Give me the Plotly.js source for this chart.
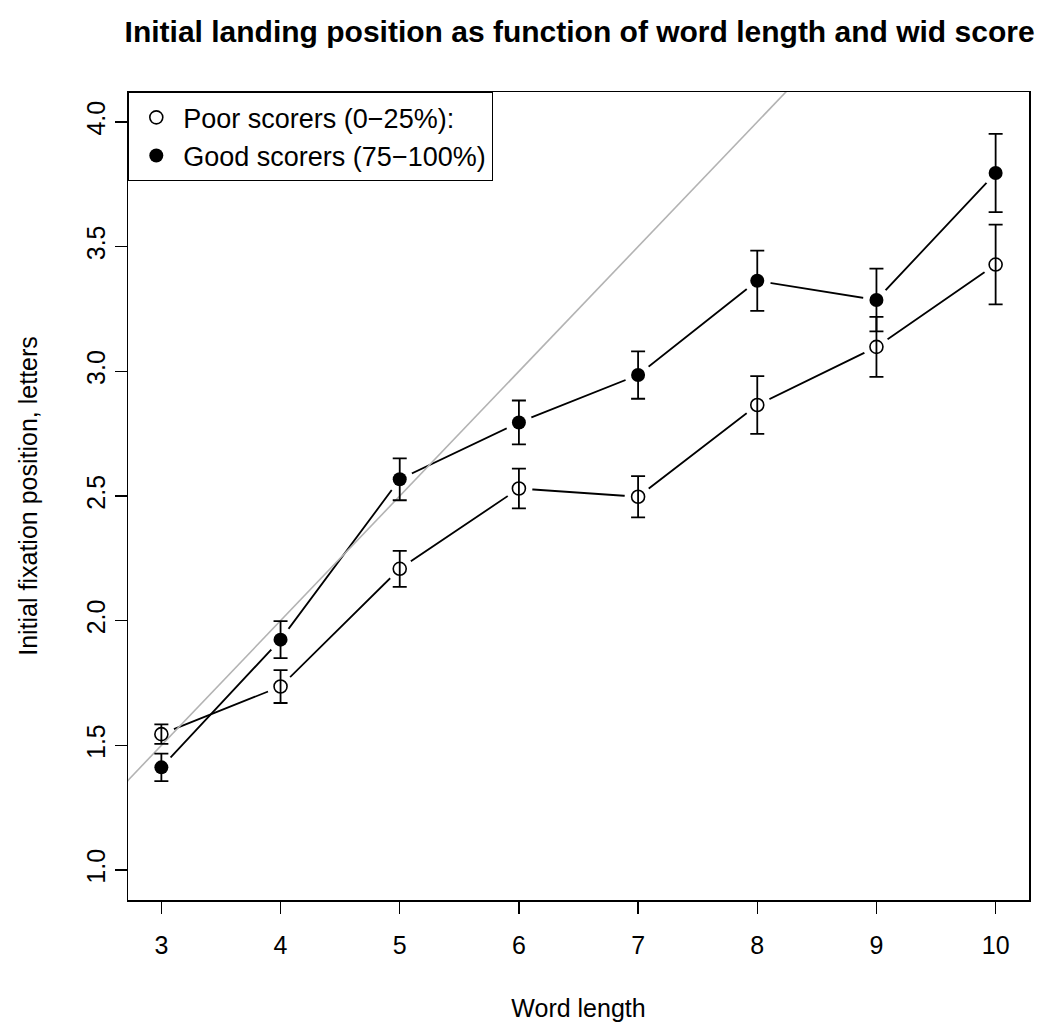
<!DOCTYPE html>
<html>
<head>
<meta charset="utf-8">
<script src="https://cdn.plot.ly/plotly-3.0.1.min.js"></script>
<style>
  body { margin: 0; background: #fff; }
  #myDiv { width: 1050px; height: 1032px; }
</style>
</head>
<body>
<div id="myDiv"></div>
<script>
const wordLength = [3, 4, 5, 6, 7, 8, 9, 10];

// poor scorers (0-25%), open circles
const poorMean = [1.545, 1.736, 2.208, 2.530, 2.497, 2.865, 3.098, 3.428];
const poorErr = [0.039, 0.066, 0.072, 0.080, 0.083, 0.116, 0.120, 0.160];

// good scorers (75-100%), filled circles
const goodMean = [1.412, 1.924, 2.567, 2.795, 2.985, 3.363, 3.286, 3.795];
const goodErr = [0.055, 0.074, 0.084, 0.088, 0.095, 0.121, 0.126, 0.157];

// grey reference line: landing at the word centre
const refX = [2, 12];
const refY = refX.map(x => x / 2);

const font = "Liberation Sans, Arial, sans-serif";

// connecting lines (type = "b" in R leaves a gap round each point)
const poorLine = {
  x: wordLength, y: poorMean, type: "scatter", mode: "lines",
  line: { color: "black", width: 1.8 }, showlegend: false, hoverinfo: "skip",
};
const goodLine = {
  x: wordLength, y: goodMean, type: "scatter", mode: "lines",
  line: { color: "black", width: 1.8 }, showlegend: false, hoverinfo: "skip",
};

// white disks that cut the gaps into the lines
const poorGap = {
  x: wordLength, y: poorMean, type: "scatter", mode: "markers",
  marker: { color: "white", size: 27, line: { width: 0 } },
  showlegend: false, hoverinfo: "skip",
};
const goodGap = {
  x: wordLength, y: goodMean, type: "scatter", mode: "markers",
  marker: { color: "white", size: 27, line: { width: 0 } },
  showlegend: false, hoverinfo: "skip",
};

const refLine = {
  x: refX, y: refY, type: "scatter", mode: "lines",
  line: { color: "#b3b3b3", width: 1.6 }, showlegend: false, hoverinfo: "skip",
};

const poor = {
  x: wordLength, y: poorMean, type: "scatter", mode: "markers",
  name: "Poor scorers (0\u221225%):",
  marker: { symbol: "circle-open", color: "black", size: 13, line: { color: "black", width: 1.6 } },
  error_y: { type: "data", array: poorErr, visible: true, color: "black", thickness: 1.8, width: 7 },
};
const good = {
  x: wordLength, y: goodMean, type: "scatter", mode: "markers",
  name: "Good scorers (75\u2212100%)",
  marker: { symbol: "circle", color: "black", size: 14 },
  error_y: { type: "data", array: goodErr, visible: true, color: "black", thickness: 1.8, width: 7 },
};

const data = [poorLine, goodLine, poorGap, goodGap, refLine, poor, good];

const layout = {
  width: 1050,
  height: 1032,
  margin: { l: 128, r: 21, t: 92, b: 132 },
  paper_bgcolor: "white",
  plot_bgcolor: "white",
  font: { family: font, color: "black", size: 25 },
  title: {
    text: "<b>Initial landing position as function of word length and wid score</b>",
    font: { family: font, size: 30, color: "black" },
    x: 0.552, xanchor: "center", y: 0.969, yanchor: "middle",
  },
  xaxis: {
    range: [2.72, 10.28],
    tickvals: wordLength,
    ticks: "outside", ticklen: 12, tickwidth: 1.3, tickcolor: "black",
    ticklabelstandoff: 10,
    showline: true, mirror: true, linecolor: "black", linewidth: 1.5,
    showgrid: false, zeroline: false,
    tickfont: { size: 25 },
    title: { text: "Word length", font: { size: 25 }, standoff: 42 },
  },
  yaxis: {
    range: [0.88, 4.12],
    tickvals: [1.0, 1.5, 2.0, 2.5, 3.0, 3.5, 4.0],
    ticktext: ["1.0", "1.5", "2.0", "2.5", "3.0", "3.5", "4.0"],
    tickangle: -90,
    ticks: "outside", ticklen: 12, tickwidth: 1.3, tickcolor: "black",
    showline: true, mirror: true, linecolor: "black", linewidth: 1.5,
    showgrid: false, zeroline: false,
    tickfont: { size: 25 },
    title: { text: "Initial fixation position, letters", font: { size: 25 }, standoff: 37 },
  },
  legend: {
    x: 0, y: 1, xanchor: "left", yanchor: "top",
    bgcolor: "white", bordercolor: "black", borderwidth: 1.3,
    font: { size: 27 }, itemwidth: 44,
  },
  showlegend: true,
};

Plotly.newPlot("myDiv", data, layout, { displayModeBar: false, staticPlot: true });
</script>
</body>
</html>
